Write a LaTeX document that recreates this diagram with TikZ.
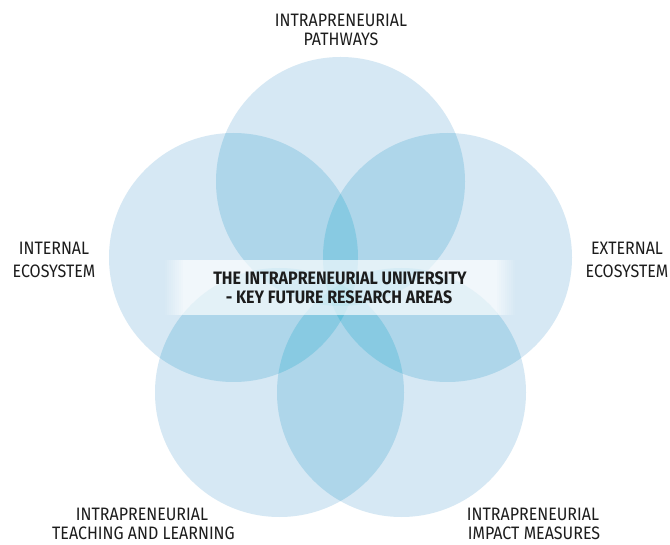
\documentclass[tikz,border=0pt]{standalone}
\usepackage{fontspec}
\newfontfamily\lblfont{Fira Sans}[FakeStretch=0.89]
\definecolor{cone}{RGB}{214,232,244}
\definecolor{ctwo}{RGB}{174,214,234}
\definecolor{cthree}{RGB}{136,202,226}
\definecolor{cfour}{RGB}{104,193,219}
\definecolor{cfive}{RGB}{76,186,213}
\definecolor{txt}{RGB}{28,28,28}
\begin{document}
\begin{tikzpicture}[x=1pt,y=-1pt,
  petal/.style={circle, fill=cone, draw=none, minimum size=249pt, inner sep=0pt},
  lbl/.style={anchor=base, inner sep=0pt, text=txt, font=\lblfont\fontsize{18}{20}\selectfont},
  ttl/.style={anchor=base, inner sep=0pt, text=txt, font=\lblfont\bfseries\fontsize{18}{20}\selectfont}]
\useasboundingbox (0,0) rectangle (670,545);
\fill[white] (0,0) rectangle (670,545);
% the five circles (single layer)
\node[petal] (T)  at (340.5,181.5) {};
\node[petal] (L)  at (233.5,257.5) {};
\node[petal] (R)  at (447.5,257.5) {};
\node[petal] (BL) at (279.5,392.5) {};
\node[petal] (BR) at (401.5,392.5) {};
\def\rr{124.5}
% two-fold overlaps
\foreach \a/\b in {T/L,T/R,T/BL,T/BR,L/R,L/BL,L/BR,R/BL,R/BR,BL/BR}{
  \begin{scope}
    \clip (\a.center) circle[radius=\rr];
    \fill[ctwo] (\b.center) circle[radius=\rr];
  \end{scope}
}
% three-fold overlaps
\foreach \a/\b/\c in {T/L/R,T/L/BL,T/L/BR,T/R/BL,T/R/BR,T/BL/BR,L/R/BL,L/R/BR,L/BL/BR,R/BL/BR}{
  \begin{scope}
    \clip (\a.center) circle[radius=\rr];
    \clip (\b.center) circle[radius=\rr];
    \fill[cthree] (\c.center) circle[radius=\rr];
  \end{scope}
}
% four-fold overlaps
\foreach \a/\b/\c/\d in {L/R/BL/BR,T/R/BL/BR,T/L/BL/BR,T/L/R/BR,T/L/R/BL}{
  \begin{scope}
    \clip (\a.center) circle[radius=\rr];
    \clip (\b.center) circle[radius=\rr];
    \clip (\c.center) circle[radius=\rr];
    \fill[cfour] (\d.center) circle[radius=\rr];
  \end{scope}
}
% five-fold overlap
\begin{scope}
  \clip (T.center) circle[radius=\rr];
  \clip (L.center) circle[radius=\rr];
  \clip (R.center) circle[radius=\rr];
  \clip (BL.center) circle[radius=\rr];
  \fill[cfive] (BR.center) circle[radius=\rr];
\end{scope}
% translucent band behind the title
\fill[white, fill opacity=0.66] (185,260) rectangle (495,315);
\foreach \i in {0,...,9}{
  \pgfmathsetmacro{\op}{0.066*(\i+1)}
  \fill[white, fill opacity=\op] (165+2*\i,260) rectangle ++(2,55);
  \fill[white, fill opacity=\op] (515-2*\i,260) rectangle ++(-2,55);
}
\node[ttl] (title1) at (340,284.5) {THE INTRAPRENEURIAL UNIVERSITY};
\node[ttl] (title2) at (339,304) {- KEY FUTURE RESEARCH AREAS};
% labels
\node[lbl] (p1) at (341,27) {INTRAPRENEURIAL};
\node[lbl] (p2) at (341,46) {PATHWAYS};
\node[lbl] (i1) at (54,255) {INTERNAL};
\node[lbl] (i2) at (54,278) {ECOSYSTEM};
\node[lbl] (e1) at (627,255) {EXTERNAL};
\node[lbl] (e2) at (627,278) {ECOSYSTEM};
\node[lbl] (t1) at (142,520.5) {INTRAPRENEURIAL};
\node[lbl] (t2) at (143.5,539) {TEACHING AND LEARNING};
\node[lbl] (m1) at (533,520.5) {INTRAPRENEURIAL};
\node[lbl] (m2) at (534,539) {IMPACT MEASURES};
\end{tikzpicture}
\end{document}
